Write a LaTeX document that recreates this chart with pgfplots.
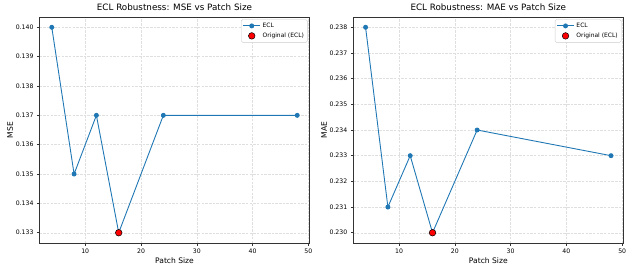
\documentclass[border=0pt]{standalone}
\usepackage{fontspec}
\setmainfont{DejaVu Sans}
\usepackage{pgfplots}
\pgfplotsset{compat=1.18}
\definecolor{tabblue}{HTML}{1F77B4}
\pgfplotsset{
  robust/.style={
    scale only axis,
    width=270bp, height=226bp,
    xmin=1.8, xmax=50.2,
    xtick={10,20,30,40,50},
    grid=major,
    major grid style={dash pattern=on 2.5pt off 1.2pt, gray!25, line width=0.4pt},
    tick align=outside,
    tick pos=left,
    tick style={black!80, line width=0.5pt},
    major tick length=2.5bp,
    axis line style={black!80, line width=0.6pt},
    tick label style={font=\fontsize{6.2}{7}\selectfont},
    label style={font=\fontsize{7.6}{8}\selectfont},
    title style={font=\fontsize{8.8}{10}\selectfont, yshift=-3bp},
    xlabel={Patch Size},
    /pgf/number format/assume math mode=true,
    yticklabel style={/pgf/number format/.cd, fixed, fixed zerofill, precision=3},
    scaled y ticks=false,
    legend style={at={(0.993,0.99)}, anchor=north east, font=\fontsize{6}{6.8}\selectfont,
      draw=gray!40, rounded corners=1.5pt, row sep=0pt, inner sep=1.5pt},
    legend cell align=left,
    xlabel style={yshift=3bp},
    ylabel style={yshift=-4bp},
  }
}
\begin{document}
\begin{tikzpicture}
\path (0,0) rectangle (634bp,272bp);
\begin{axis}[robust, at={(39.5bp,29bp)}, anchor=south west,
  ymin=0.13265, ymax=0.14035,
  ytick={0.133,0.134,0.135,0.136,0.137,0.138,0.139,0.140},
  ylabel={MSE}, title={ECL Robustness: MSE vs Patch Size}]
\addplot[tabblue, line width=0.9pt, mark=*, mark size=2pt, mark options={fill=tabblue, draw=tabblue}]
  coordinates {(4,0.140) (8,0.135) (12,0.137) (16,0.133) (24,0.137) (48,0.137)};
\addlegendentry{ECL}
\addplot[only marks, mark=*, mark size=3.3pt, mark options={fill=red, draw=black, line width=0.5pt}]
  coordinates {(16,0.133)};
\addlegendentry{Original (ECL)}
\end{axis}
\begin{axis}[robust, at={(353.3bp,29bp)}, anchor=south west,
  ymin=0.2296, ymax=0.2384,
  ytick={0.230,0.231,0.232,0.233,0.234,0.235,0.236,0.237,0.238},
  ylabel={MAE}, title={ECL Robustness: MAE vs Patch Size}]
\addplot[tabblue, line width=0.9pt, mark=*, mark size=2pt, mark options={fill=tabblue, draw=tabblue}]
  coordinates {(4,0.238) (8,0.231) (12,0.233) (16,0.230) (24,0.234) (48,0.233)};
\addlegendentry{ECL}
\addplot[only marks, mark=*, mark size=3.3pt, mark options={fill=red, draw=black, line width=0.5pt}]
  coordinates {(16,0.230)};
\addlegendentry{Original (ECL)}
\end{axis}
\end{tikzpicture}
\end{document}
